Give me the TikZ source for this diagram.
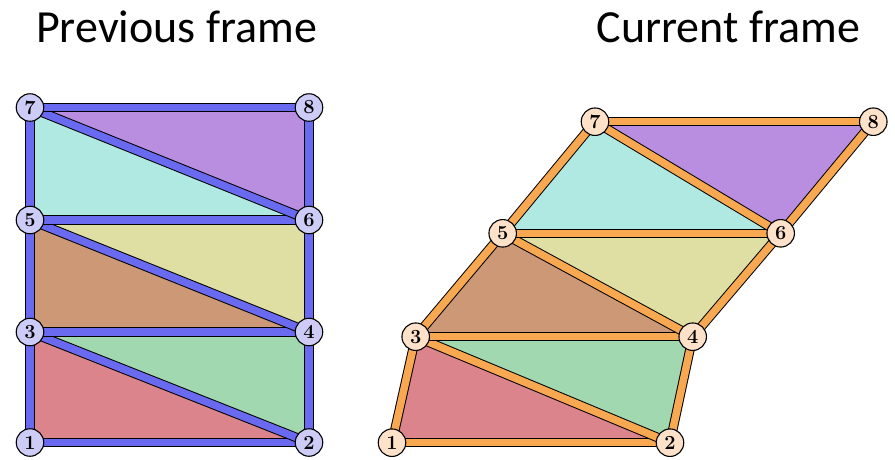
\documentclass[tikz,border=0pt]{standalone}
\usepackage{fontspec}
\newfontfamily\titlefont{Carlito}
\definecolor{cred}{HTML}{DC848C}
\definecolor{cgreen}{HTML}{A1D8B0}
\definecolor{cbrown}{HTML}{CC9876}
\definecolor{cyellow}{HTML}{DFDFA3}
\definecolor{ccyan}{HTML}{B0E9E2}
\definecolor{cpurple}{HTML}{B98EE0}
\definecolor{eblue}{HTML}{6A6AF0}
\definecolor{eorange}{HTML}{F7A850}
\definecolor{nblue}{HTML}{CCCCF7}
\definecolor{norange}{HTML}{FDE1C8}
\tikzset{
  vtx/.style={circle, draw=black, line width=1.1pt, minimum size=27.5pt, inner sep=0pt, font=\fontsize{20}{20}\selectfont\bfseries},
  bluev/.style={vtx, fill=nblue},
  orangev/.style={vtx, fill=norange},
  bedge/.style={draw=black, line width=1pt, double=eblue, double distance=7.5pt},
  oedge/.style={draw=black, line width=1pt, double=eorange, double distance=7.5pt},
  ttl/.style={font=\titlefont\fontsize{46}{46}\selectfont, anchor=base, inner sep=0pt}
}
\begin{document}
\begin{tikzpicture}[x=1pt,y=-1pt]
\useasboundingbox (0,0) rectangle (895,459);
\node[ttl] (t1) at (176.5,42) {Previous frame};
\node[ttl] (t2) at (728.5,42) {Current frame};
% left coordinates
\coordinate (a1) at (30,442.5);
\coordinate (a2) at (309,442.5);
\coordinate (a3) at (30,332);
\coordinate (a4) at (309,332);
\coordinate (a5) at (30,220);
\coordinate (a6) at (309,220);
\coordinate (a7) at (30,107.5);
\coordinate (a8) at (309,107.5);
% right coordinates
\coordinate (b1) at (392,442.7);
\coordinate (b2) at (670,442.7);
\coordinate (b3) at (415.7,336.7);
\coordinate (b4) at (692.7,336.7);
\coordinate (b5) at (502.7,233.3);
\coordinate (b6) at (780.7,233.3);
\coordinate (b7) at (595,121.7);
\coordinate (b8) at (873.3,121.7);
\foreach \p in {a,b}{
  \fill[cred] (\p1) -- (\p2) -- (\p3) -- cycle;
  \fill[cgreen] (\p2) -- (\p4) -- (\p3) -- cycle;
  \fill[cbrown] (\p3) -- (\p4) -- (\p5) -- cycle;
  \fill[cyellow] (\p4) -- (\p6) -- (\p5) -- cycle;
  \fill[ccyan] (\p5) -- (\p6) -- (\p7) -- cycle;
  \fill[cpurple] (\p6) -- (\p8) -- (\p7) -- cycle;
}
\foreach \u/\v in {1/2,1/3,2/4,2/3,3/4,3/5,4/6,4/5,5/6,5/7,6/8,6/7,7/8}{
  \draw[bedge] (a\u) -- (a\v);
  \draw[oedge] (b\u) -- (b\v);
}
\foreach \i in {1,...,8}{
  \node[bluev, text=black] (na\i) at (a\i) {\i};
  \node[orangev, text=black] (nb\i) at (b\i) {\i};
}
\end{tikzpicture}
\end{document}
